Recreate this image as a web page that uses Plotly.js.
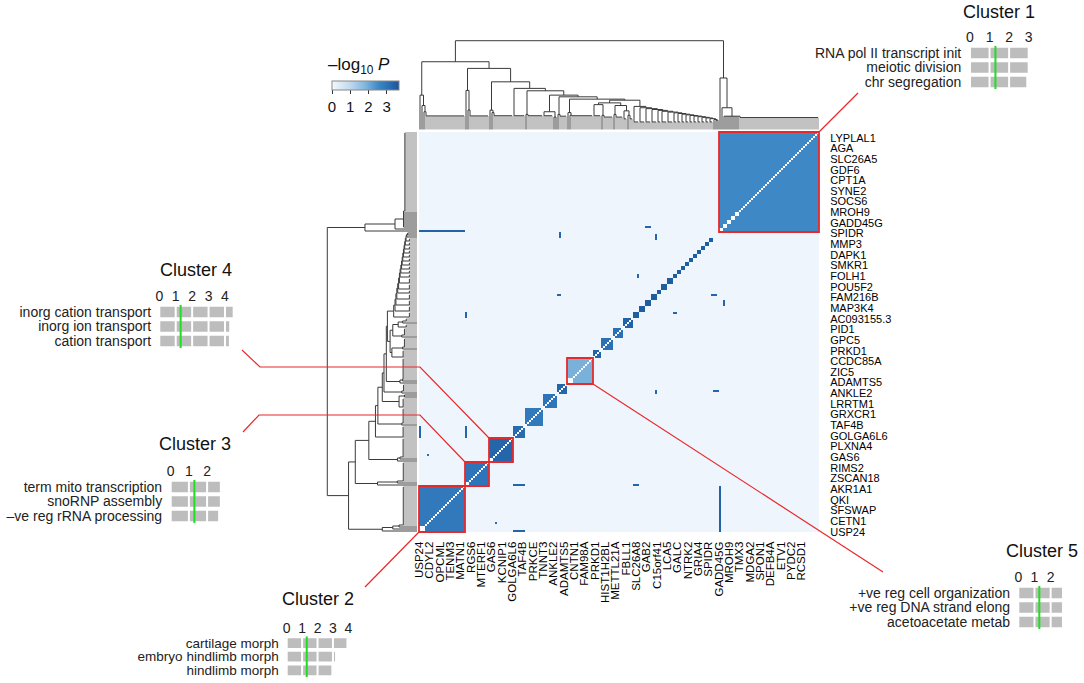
<!DOCTYPE html>
<html><head><meta charset="utf-8">
<script src="https://cdn.plot.ly/plotly-3.0.1.min.js"></script>
<style>html,body{margin:0;padding:0;background:#fff}#chart{width:1084px;height:683px}</style>
</head><body><div id="chart"></div>
<script>
const W = 1084, H = 683;
const FONT = 'Liberation Sans, Arial, Helvetica, sans-serif';

// ---------------- data ----------------
const geneCount = 200;
const rowLabels = ['LYPLAL1','AGA','SLC26A5','GDF6','CPT1A','SYNE2','SOCS6','MROH9','GADD45G','SPIDR','MMP3','DAPK1','SMKR1','FOLH1','POU5F2','FAM216B','MAP3K4','AC093155.3','PID1','GPC5','PRKD1','CCDC85A','ZIC5','ADAMTS5','ANKLE2','LRRTM1','GRXCR1','TAF4B','GOLGA6L6','PLXNA4','GAS6','RIMS2','ZSCAN18','AKR1A1','QKI','SFSWAP','CETN1','USP24'];
const colLabels = ['USP24','CDYL2','OPCML','TENM3','MATN1','RGS6','MTERF1','GAS6','KCNIP1','GOLGA6L6','TAF4B','PRKCE','TNNT3','ANKLE2','ADAMTS5','CNTN1','FAM98A','PRKD1','HIST1H2BL','METTL21A','FBLL1','SLC26A8','GAB2','C15orf41','LCA5','GALC','NTRK2','GRIA4','SPIDR','GADD45G','MROH9','TMX3','MDGA2','SPON1','DEFB4A','ETV1','PYDC2','RCSD1'];

// co-enrichment blocks along the diagonal (consecutive, leaf order bottom-left -> top-right)
const backgroundScore = 0.1;
const blockSize  = [23,12,12,6,9,7,5,13,4,6,5,5, 3,3,3,3,2,3,3,2,2,2,2,2,2,2,2,2,2, 3, 50];
const blockScore = [2.9,3.0,3.3,3.2,2.9,3.0,3.3,1.9,3.4,3.1,3.1,3.4, 3.5,3.5,3.5,3.5,3.5,3.5,3.5,3.5,3.5,3.5,3.5,3.5,3.5,3.5,3.5,3.5,3.5, 0, 2.55];
const whiteStart = [0,23,35,74,150,152,154,156,158];
const whiteSize  = [3,2,2,3,2,2,2,2,2];
// off-diagonal hits (mirrored)
const markRow     = [150,152,118,70,118,109,23,23,0,4];
const markColFrom = [0,113,146,147,69,127,47,107,47,38];
const markColTo   = [22,115,148,149,70,128,52,109,52,38];
const markScore   = [3.4,3.3,3.3,3.3,3.3,3.3,3.3,3.3,3.3,3.1];
const scoreMax = 3.67;

// cluster boxes: index into blocks for Cluster 1..5
const clusterBlockIndex = [30, 0, 1, 2, 7];

// dendrogram (node = [height, child, child...], leaf group = {n, h})
const stairGroupSizes = [3,3,3,3,2,3,3,2,2,2,2,2,2,2,2,2,2,1,1,1];
const stairHeights = [0.26,0.245,0.235,0.225,0.215,0.205,0.196,0.188,0.18,0.172,0.165,0.158,0.151,0.144,0.137,0.13,0.122,0.113,0.104];
const stairCombHeight = 0.085;
const treeCluster2 = [0.387, {n:1}, [0.27, {n:1}, [0.2, {n:1}, {n:20, h:0.153}]]];
const treeCluster3 = [0.44, {n:1}, [0.22, {n:1}, {n:10, h:0.153}]];
const treeCluster4 = [0.218, {n:1}, [0.19, {n:1}, {n:10, h:0.155}]];
const treeCluster5 = [0.19, {n:1}, [0.16, {n:1}, {n:11, h:0.155}]];
const treeCluster1 = [0.58, {n:1}, [0.245, {n:1}, [0.15, {n:1},{n:1},{n:1},{n:1},{n:1},{n:1},{n:1},{n:1}, {n:40, h:0.135}]]];

// cluster enrichment panels
const clusterTitles = ['Cluster 1','Cluster 2','Cluster 3','Cluster 4','Cluster 5'];
const clusterTerms = [
  ['RNA pol II transcript init','meiotic division','chr segregation'],
  ['cartilage morph','embryo hindlimb morph','hindlimb morph'],
  ['term mito transcription','snoRNP assembly','–ve reg rRNA processing'],
  ['inorg cation transport','inorg ion transport','cation transport'],
  ['+ve reg cell organization','+ve reg DNA strand elong','acetoacetate metab']];
const clusterScores = [[3.0,3.0,2.93],[3.94,3.2,2.96],[2.77,2.77,2.66],[4.53,4.32,4.3],[2.95,2.85,2.85]];
const clusterTickMax = [3,4,2,4,2];
const significanceLine = 1.3;

// ---------------- layout geometry (pixels) ----------------
const heatL = 419, heatR = 819, heatT = 132, heatB = 532;
const cell = (heatR - heatL) / geneCount;
const miniPos = [
  {x0:970,   unit:19.56, top:45.75, rowH:14.5, tx:999,  ty:12.5, fs:14},
  {x0:286.7, unit:15.42, top:636.3, rowH:13.6, tx:317.5,ty:599, fs:13.5},
  {x0:170.7, unit:18.2,  top:479.75,rowH:14.5, tx:195,  ty:444, fs:14},
  {x0:159.3, unit:16.42, top:304.75,rowH:14.5, tx:196,  ty:270, fs:14},
  {x0:1018.3,unit:16.17, top:585.75,rowH:14.5, tx:1041.5,ty:551, fs:14}];
const connectorEnds = [
  [[858,93]],
  [[365,587]],
  [[420,415],[259,415],[243,432]],
  [[420,367],[260,367],[242,350]],
  [[883,572]]];
const connectorCorner = ['tr','bl','tl','tl','br'];

const px = v => v / W;
const py = v => 1 - v / H;
const domX = (a, b) => [Math.min(a,b)/W, Math.max(a,b)/W];
const domY = (a, b) => [1 - Math.max(a,b)/H, 1 - Math.min(a,b)/H];

// ---------------- heatmap matrix ----------------
const blockStart = []; { let acc = 0; blockSize.forEach(s => { blockStart.push(acc); acc += s; }); }
const z = [];
for (let r = 0; r < geneCount; r++) z.push(new Array(geneCount).fill(backgroundScore));
blockSize.forEach((s, b) => {
  const v = blockScore[b]; if (!v) return; const a = blockStart[b];
  for (let r = a; r < a + s; r++) for (let c = a; c < a + s; c++) z[r][c] = (r === c && s >= 4) ? 0 : v;
});
whiteStart.forEach((a, i) => { for (let r = a; r < a + whiteSize[i]; r++) for (let c = a; c < a + whiteSize[i]; c++) z[r][c] = 0; });
markRow.forEach((r, i) => { for (let c = markColFrom[i]; c <= markColTo[i]; c++) { z[r][c] = markScore[i]; z[c][r] = markScore[i]; } });

// ---------------- dendrogram ----------------
let stair = {n: stairGroupSizes[stairGroupSizes.length-1]};
for (let i = stairGroupSizes.length - 2; i >= 0; i--) {
  const g = stairGroupSizes[i] === 1 ? {n:1} : {n: stairGroupSizes[i], h: stairCombHeight};
  stair = [stairHeights[i], g, stair];
}
const treeRest = [0.33, [0.30, [0.28, {n:4, h:0.155}, [0.16, {n:1}, {n:5, h:0.14}]], [0.27, [0.17, {n:1}, {n:4, h:0.14}], [0.21, {n:2, h:0.12}, [0.16, {n:1}, {n:2, h:0.12}]]]], stair];
const treeStair = [0.463, {n:6, h:0.155}, [0.436, [0.17, {n:1}, {n:8, h:0.155}], [0.387, [0.2, {n:5, h:0.155}, [0.14, {n:1}, {n:1}]], [0.368, [0.17, {n:1}, {n:4, h:0.15}], [0.342, treeCluster5, treeRest]]]]];
const tree = [1.0, [0.763, treeCluster2, [0.688, treeCluster3, [0.537, treeCluster4, treeStair]]], treeCluster1];

const segs = [], leafSegs = [];
let leafCursor = 0;
function place(node) {
  if (!Array.isArray(node)) {
    const first = leafCursor; leafCursor += node.n;
    if (node.n === 1) return {pos: first, h: 0};
    for (let i = first; i < first + node.n; i++) leafSegs.push([i, 0, i, node.h]);
    segs.push([first, node.h, first + node.n - 1, node.h]);
    return {pos: first, h: node.h};
  }
  const h = node[0];
  const kids = node.slice(1).map(place);
  kids.forEach(k => segs.push([k.pos, k.h, k.pos, h]));
  const lo = Math.min(...kids.map(k => k.pos)), hi = Math.max(...kids.map(k => k.pos));
  segs.push([lo, h, hi, h]);
  return {pos: (lo + hi) / 2, h};
}
place(tree);
function segXY(list, swap) {
  const a = [], b = [];
  list.forEach(s => {
    if (!swap) { a.push(s[0], s[2], null); b.push(s[1], s[3], null); }
    else { a.push(s[1], s[3], null); b.push(s[0], s[2], null); }
  });
  return [a, b];
}

const traces = [];
traces.push({
  type: 'heatmap', z: z, xaxis: 'x', yaxis: 'y', zmin: 0, zmax: scoreMax,
  colorscale: [[0,'#f7fbff'],[0.03,'#edf4fc'],[0.25,'#c6dcef'],[0.5,'#7fb5dd'],[0.7,'#3c87c5'],[0.85,'#2a6fb4'],[1,'#1a5599']],
  hoverinfo: 'skip',
  colorbar: {orientation: 'h', x: px(365.5), xanchor: 'center', y: py(80.7), yanchor: 'top',
    len: 67, lenmode: 'pixels', thickness: 9, thicknessmode: 'pixels', xpad: 0, ypad: 0,
    outlinewidth: 1, outlinecolor: '#888', tickvals: [0,1,2,3], ticks: 'outside', ticklen: 4, tickcolor: '#333',
    tickfont: {family: FONT, size: 15, color: '#111'}}
});
const dendroLine = {color: '#3a3a3a', width: 1};
const leafLine = {color: '#666', width: 0.8};
let t = segXY(segs, false);
traces.push({type:'scatter', mode:'lines', x:t[0], y:t[1], xaxis:'x2', yaxis:'y2', line:dendroLine, hoverinfo:'skip'});
t = segXY(leafSegs, false);
traces.push({type:'scatter', mode:'lines', x:t[0], y:t[1], xaxis:'x2', yaxis:'y2', line:leafLine, hoverinfo:'skip'});
t = segXY(segs, true);
traces.push({type:'scatter', mode:'lines', x:t[0], y:t[1], xaxis:'x3', yaxis:'y3', line:dendroLine, hoverinfo:'skip'});
t = segXY(leafSegs, true);
traces.push({type:'scatter', mode:'lines', x:t[0], y:t[1], xaxis:'x3', yaxis:'y3', line:leafLine, hoverinfo:'skip'});

// ---------------- layout ----------------
const rowTickVals = rowLabels.map((_, i) => 196.65 - i * (196.65 + 0.35) / (rowLabels.length - 1));
const colTickVals = colLabels.map((_, i) => -0.45 + i * (190.75 + 0.45) / (colLabels.length - 1));
const hidden = {visible: false, showgrid: false, zeroline: false, fixedrange: true};
const layout = {
  width: W, height: H, margin: {l:0, r:0, t:0, b:0}, paper_bgcolor: '#fff', plot_bgcolor: 'rgba(0,0,0,0)',
  showlegend: false, font: {family: FONT, color: '#111'},
  xaxis: {domain: domX(heatL, heatR), range: [-0.5, geneCount - 0.5], anchor: 'y', showgrid: false, zeroline: false, showline: false,
    tickmode: 'array', tickvals: colTickVals, ticktext: colLabels, tickangle: -90, ticks: 'outside', ticklen: 4, tickcolor: 'rgba(0,0,0,0)',
    tickfont: {family: FONT, size: 11.5, color: '#000'}},
  yaxis: {domain: domY(heatT, heatB), range: [-0.5, geneCount - 0.5], anchor: 'x', side: 'right', showgrid: false, zeroline: false, showline: false,
    tickmode: 'array', tickvals: rowTickVals, ticktext: rowLabels, ticks: 'outside', ticklen: 8, tickcolor: 'rgba(0,0,0,0)',
    tickfont: {family: FONT, size: 11, color: '#000'}},
  xaxis2: Object.assign({domain: domX(heatL, heatR), range: [-0.5, geneCount - 0.5], anchor: 'y2'}, hidden),
  yaxis2: Object.assign({domain: domY(129.5 + 0.01*88.8, 129.5 - 1.02*88.8), range: [-0.01, 1.02], anchor: 'x2'}, hidden),
  xaxis3: Object.assign({domain: domX(417 + 0.01*89.7, 417 - 1.02*89.7), range: [1.02, -0.01], anchor: 'y3'}, hidden),
  yaxis3: Object.assign({domain: domY(heatT, heatB), range: [-0.5, geneCount - 0.5], anchor: 'x3'}, hidden),
  shapes: [], annotations: []
};

// colour key title
layout.annotations.push({xref:'paper', yref:'paper', x: px(326), y: py(66), xanchor:'left', yanchor:'middle', showarrow:false,
  text: '–log<sub>10</sub> <i>P</i>', font: {family: FONT, size: 17, color: '#111'}});

// cluster boxes and connectors
const colPx = c => heatL + c * cell;
const rowPx = r => heatB - r * cell;
clusterBlockIndex.forEach((b, k) => {
  const a = blockStart[b], s = blockSize[b];
  const L = colPx(a), R = colPx(a + s), T = rowPx(a + s), B = rowPx(a);
  layout.shapes.push({type:'rect', xref:'paper', yref:'paper', x0: px(L), x1: px(R), y0: py(B), y1: py(T),
    line: {color: '#e8292b', width: 1.8}, fillcolor: 'rgba(0,0,0,0)'});
  const corner = {tr:[R,T], tl:[L,T], bl:[L,B], br:[R,B]}[connectorCorner[k]];
  const pts = [corner].concat(connectorEnds[k]);
  const path = pts.map((p, i) => (i ? 'L' : 'M') + px(p[0]) + ',' + py(p[1])).join(' ');
  layout.shapes.push({type:'path', xref:'paper', yref:'paper', path: path, line: {color: '#e8292b', width: 1.2}});
});

// enrichment panels
clusterTitles.forEach((title, k) => {
  const m = miniPos[k], n = 4 + k, tmax = clusterTickMax[k];
  const xr = [-0.15, tmax + 0.7];
  const pix = v => m.x0 + m.unit * v;
  layout['xaxis' + n] = {domain: domX(pix(xr[0]), pix(xr[1])), range: xr, anchor: 'y' + n, side: 'top',
    tickmode: 'array', tickvals: Array.from({length: tmax + 1}, (_, i) => i), ticks: '', showgrid: false, zeroline: false, showline: false,
    fixedrange: true, tickfont: {family: FONT, size: 14, color: '#222'}};
  layout['yaxis' + n] = {domain: domY(m.top, m.top + 3 * m.rowH), range: [2.5, -0.5], anchor: 'x' + n,
    tickmode: 'array', tickvals: [0,1,2], ticktext: clusterTerms[k], ticks: 'outside', ticklen: 2, tickcolor: 'rgba(0,0,0,0)',
    showgrid: false, zeroline: false, showline: false, fixedrange: true, tickfont: {family: FONT, size: m.fs, color: '#222'}};
  const gap = 2 / m.unit;
  const bx = [], bb = [], by = [];
  clusterScores[k].forEach((v, i) => {
    for (let s = 0; s < v; s++) {
      const len = Math.min(1, v - s);
      bb.push(s + gap / 2); bx.push(Math.max(len - gap, 0.02)); by.push(i);
    }
  });
  traces.push({type:'bar', orientation:'h', x: bx, base: bb, y: by, width: 0.72, xaxis:'x' + n, yaxis:'y' + n,
    marker: {color: '#bdbdbd', line: {width: 0}}, hoverinfo: 'skip'});
  traces.push({type:'scatter', mode:'lines', x: [significanceLine, significanceLine], y: [-0.5, 2.5], xaxis:'x' + n, yaxis:'y' + n,
    line: {color: '#22dd22', width: 2}, hoverinfo: 'skip'});
  layout.annotations.push({xref:'paper', yref:'paper', x: px(m.tx), y: py(m.ty), xanchor:'center', yanchor:'middle', showarrow:false,
    text: title, font: {family: FONT, size: 18, color: '#111'}});
});

Plotly.newPlot('chart', traces, layout, {staticPlot: true, displayModeBar: false});
</script>
</body></html>
